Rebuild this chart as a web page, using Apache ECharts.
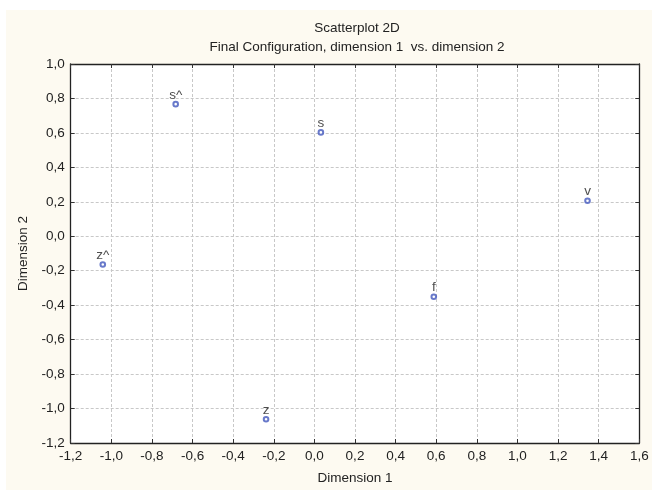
<!DOCTYPE html>
<html>
<head>
<meta charset="utf-8">
<script src="https://cdn.jsdelivr.net/npm/echarts@6/dist/echarts.min.js"></script>
<style>
html,body{margin:0;padding:0;background:#ffffff;}
#c{width:652px;height:490px;}
</style>
</head>
<body>
<div id="c"></div>
<script>
var pointLabels = ["s^", "s", "z^", "v", "f", "z"];
var dim1Values = [-0.683, 0.032, -1.042, 1.345, 0.588, -0.238];
var dim2Values = [0.767, 0.603, -0.164, 0.206, -0.351, -1.062];
var xTickRange = [-1.2, 1.6, 0.2];
var yTickRange = [-1.2, 1.0, 0.2];

var FONT = '"Liberation Sans", Arial, sans-serif';
var TXT = '#222222';
var FS = 13.5;
function fmt(v){ return v.toFixed(1).replace('.', ','); }

var data = pointLabels.map(function(n, i){ return {name: n, value: [dim1Values[i], dim2Values[i]]}; });

var gridL = 70.7, gridT = 64, gridR = 652 - 639.3, gridB = 490 - 444.3;

function axisCommon(showLabels, isX){
  return {
    type: 'value',
    min: isX ? xTickRange[0] : yTickRange[0],
    max: isX ? xTickRange[1] : yTickRange[1],
    interval: isX ? xTickRange[2] : yTickRange[2],
    axisLine: {show: true, onZero: false, lineStyle: {color: '#222222', width: 1.3}},
    axisTick: {show: true, inside: true, length: 4, lineStyle: {color: '#333333', width: 1}},
    axisLabel: {show: showLabels, formatter: fmt, color: TXT, fontFamily: FONT, fontSize: FS, margin: 6},
    splitLine: {show: showLabels, lineStyle: {color: '#c8c8c8', type: [3, 2], width: 1}}
  };
}

var xb = axisCommon(true, true);
xb.position = 'bottom';
xb.name = 'Dimension 1'; xb.nameLocation = 'middle'; xb.nameGap = 28;
xb.nameTextStyle = {color: TXT, fontFamily: FONT, fontSize: FS};
var xt = axisCommon(false, true); xt.position = 'top';
var yl = axisCommon(true, false);
yl.position = 'left';
yl.name = 'Dimension 2'; yl.nameLocation = 'middle'; yl.nameGap = 40;
yl.nameTextStyle = {color: TXT, fontFamily: FONT, fontSize: FS};
yl.axisLabel.margin = 6;
var yr = axisCommon(false, false); yr.position = 'right';

var chart = echarts.init(document.getElementById('c'), null, {renderer: 'canvas'});
chart.setOption({
  backgroundColor: '#ffffff',
  animation: false,
  graphic: [{
    type: 'rect', z: -10, silent: true,
    shape: {x: 6, y: 10, width: 646, height: 480},
    style: {fill: '#fdfaf1'}
  }],
  title: {
    text: 'Scatterplot 2D',
    subtext: 'Final Configuration, dimension 1  vs. dimension 2',
    left: 352, textAlign: 'center', top: 16, itemGap: 5,
    textStyle: {color: TXT, fontFamily: FONT, fontSize: FS, fontWeight: 'normal'},
    subtextStyle: {color: TXT, fontFamily: FONT, fontSize: FS}
  },
  grid: {left: gridL, top: gridT, right: gridR, bottom: gridB, containLabel: false,
         show: true, backgroundColor: '#ffffff', borderWidth: 0},
  xAxis: [xb, xt],
  yAxis: [yl, yr],
  series: [{
    type: 'scatter',
    xAxisIndex: 0, yAxisIndex: 0,
    data: data,
    symbol: 'emptyCircle',
    symbolSize: 4.6,
    itemStyle: {color: '#4258bd', borderColor: '#4258bd', borderWidth: 0.7},
    label: {show: true, position: 'top', distance: -1, formatter: '{b}',
            color: TXT, fontFamily: FONT, fontSize: FS}
  }]
});
</script>
</body>
</html>
